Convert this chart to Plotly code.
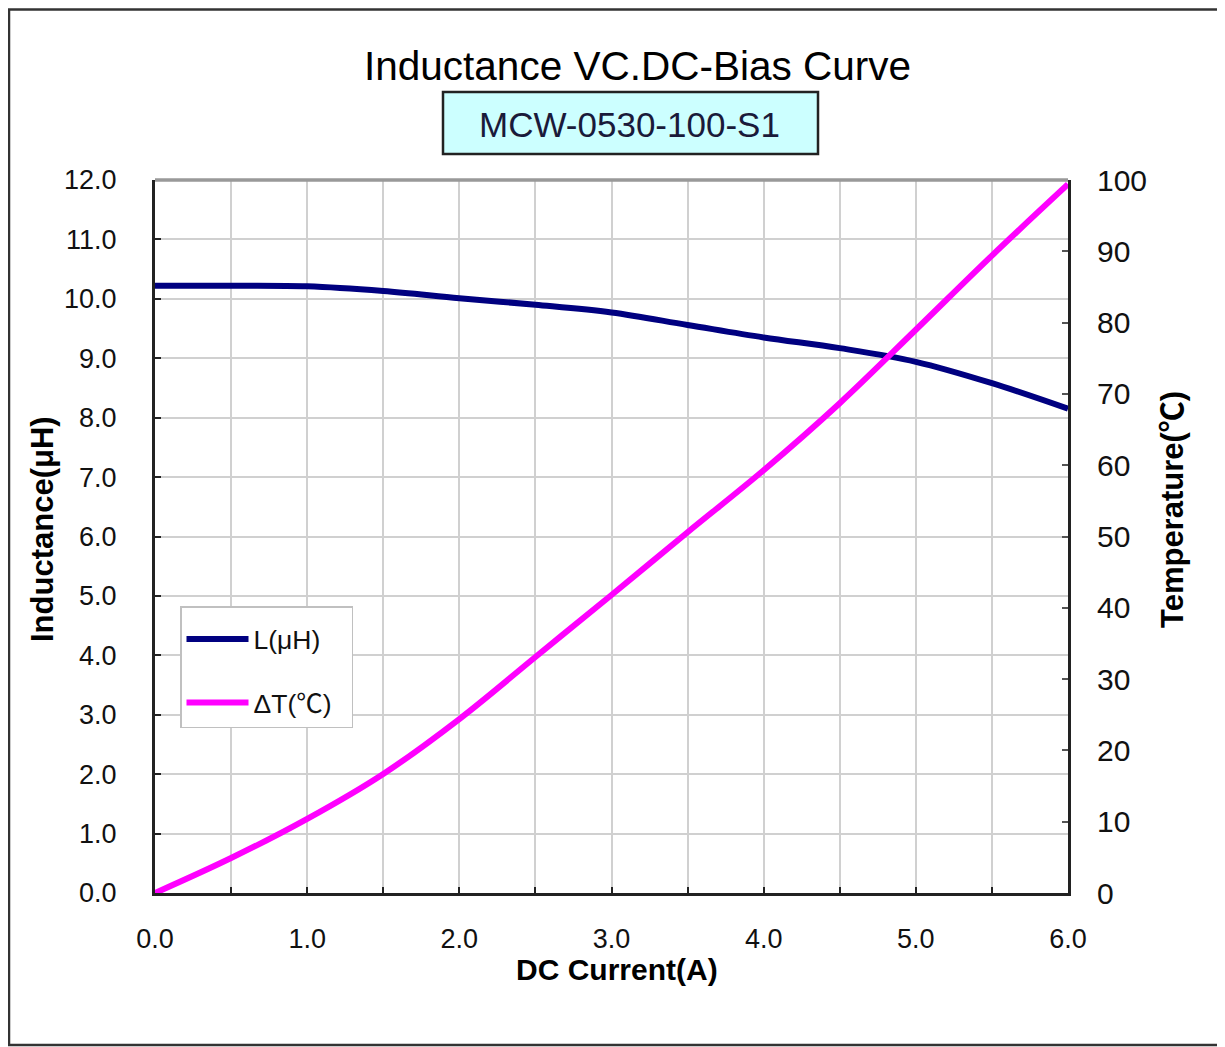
import plotly.graph_objects as go

# ---- data ----
current_A = [0.0, 0.5, 1.0, 1.5, 2.0, 2.5, 3.0, 3.5, 4.0, 4.5, 5.0, 5.5, 6.0]
inductance_uH = [10.22, 10.22, 10.21, 10.13, 10.01, 9.90, 9.77, 9.56, 9.35, 9.17, 8.94, 8.58, 8.15]
delta_T_C = [0.0, 4.9, 10.4, 16.7, 24.4, 33.1, 41.8, 50.6, 59.3, 68.7, 79.0, 89.4, 99.4]

x_tick_vals = [0.0, 0.5, 1.0, 1.5, 2.0, 2.5, 3.0, 3.5, 4.0, 4.5, 5.0, 5.5, 6.0]
x_tick_text = ["0.0", "", "1.0", "", "2.0", "", "3.0", "", "4.0", "", "5.0", "", "6.0"]
y_tick_vals = [0, 1, 2, 3, 4, 5, 6, 7, 8, 9, 10, 11, 12]
y_tick_text = ["0.0", "1.0", "2.0", "3.0", "4.0", "5.0", "6.0", "7.0", "8.0", "9.0", "10.0", "11.0", "12.0"]
y2_tick_vals = [0, 10, 20, 30, 40, 50, 60, 70, 80, 90, 100]

title_text = "Inductance VC.DC-Bias Curve"
subtitle_text = "MCW-0530-100-S1"

FONT = "Arial, 'Liberation Sans', 'Noto Sans CJK SC', sans-serif"
OFF = 8  # page body margin
W, H = 1225 - OFF, 1047 - OFF
ML = 155 - OFF
MT = 180 - OFF
MR = W - (1068 - OFF)
MB = H - (893 - OFF)
PW, PH = W - ML - MR, H - MT - MB


def px_x(p):
    return (p - OFF - ML) / PW


def px_y(p):
    return (H - MB - (p - OFF)) / PH


fig = go.Figure()
fig.add_trace(go.Scatter(
    x=current_A, y=inductance_uH, name="L(μH)", mode="lines",
    line=dict(color="#000080", width=6, shape="spline"),
    legendgroup="a", yaxis="y"))
fig.add_trace(go.Scatter(
    x=current_A, y=delta_T_C, name="ΔT(℃)\u00a0\u00a0", mode="lines",
    line=dict(color="#ff00ff", width=6, shape="spline"),
    legendgroup="b", yaxis="y2"))

fig.update_layout(
    width=W, height=H,
    margin=dict(l=ML, r=MR, t=MT, b=MB, pad=0),
    paper_bgcolor="white", plot_bgcolor="white",
    font=dict(family=FONT, color="#000"),
    showlegend=True,
    legend=dict(
        x=px_x(180), y=px_y(606), xanchor="left", yanchor="top",
        bgcolor="white", bordercolor="#c0c0c0", borderwidth=1.5,
        font=dict(size=26.5, family=FONT, color="#111"),
        title=dict(text=" ", font=dict(size=6)),
        traceorder="grouped", tracegroupgap=26, itemwidth=62,
    ),
    xaxis=dict(
        range=[0, 6], tickvals=x_tick_vals, ticktext=x_tick_text,
        showgrid=True, gridcolor="#d0d0d0", gridwidth=1.5,
        showline=True, linecolor="#222", linewidth=3,
        ticks="inside", ticklen=6, tickcolor="#222", tickwidth=1.5,
        tickfont=dict(size=27, family=FONT, color="#111"),
        ticklabelstandoff=20, zeroline=False,
    ),
    yaxis=dict(
        range=[0, 12], tickvals=y_tick_vals, ticktext=y_tick_text,
        showgrid=True, gridcolor="#d0d0d0", gridwidth=1.5,
        showline=True, linecolor="#222", linewidth=3,
        ticks="inside", ticklen=6, tickcolor="#222", tickwidth=1.5,
        tickfont=dict(size=27, family=FONT, color="#111"),
        ticklabelstandoff=30, zeroline=False,
    ),
    yaxis2=dict(
        range=[0, 100], tickvals=y2_tick_vals, overlaying="y", side="right",
        showgrid=False, showline=True, linecolor="#222", linewidth=3,
        ticks="inside", ticklen=6, tickcolor="#555", tickwidth=1.5,
        tickfont=dict(size=30, family=FONT, color="#111"),
        ticklabelstandoff=20, zeroline=False,
    ),
)

shapes = [
    # outer frame
    dict(type="rect", xref="paper", yref="paper",
         x0=px_x(9), x1=px_x(1221), y0=px_y(1045), y1=px_y(9.5),
         line=dict(color="#333", width=2.5), fillcolor="rgba(0,0,0,0)", layer="below"),
    # top border of plot area (gray)
    dict(type="line", xref="paper", yref="paper", x0=0, x1=1, y0=1, y1=1,
         line=dict(color="#999999", width=3.5)),
    # subtitle box
    dict(type="rect", xref="paper", yref="paper",
         x0=px_x(443), x1=px_x(818), y0=px_y(154), y1=px_y(92),
         line=dict(color="#222", width=2.5), fillcolor="#ccffff"),
]
fig.update_layout(shapes=shapes)

annotations = [
    dict(text=title_text, xref="paper", yref="paper", x=px_x(637), y=px_y(66),
         showarrow=False, xanchor="center", yanchor="middle",
         font=dict(size=40.5, family=FONT, color="#000")),
    dict(text=subtitle_text, xref="paper", yref="paper", x=px_x(629), y=px_y(124),
         showarrow=False, xanchor="center", yanchor="middle",
         font=dict(size=35, family=FONT, color="#1a1a3a")),
    dict(text="<b>Inductance(μH)</b>", xref="paper", yref="paper", x=px_x(42), y=px_y(529),
         showarrow=False, xanchor="center", yanchor="middle", textangle=-90,
         font=dict(size=31, family=FONT, color="#000")),
    dict(text="<b>Temperature(℃)</b>", xref="paper", yref="paper", x=px_x(1172), y=px_y(510),
         showarrow=False, xanchor="center", yanchor="middle", textangle=-90,
         font=dict(size=31, family=FONT, color="#000")),
    dict(text="<b>DC Current(A)</b>", xref="paper", yref="paper", x=px_x(617), y=px_y(970),
         showarrow=False, xanchor="center", yanchor="middle",
         font=dict(size=30, family=FONT, color="#000")),
]
fig.update_layout(annotations=annotations)

fig.write_html("out.html")
